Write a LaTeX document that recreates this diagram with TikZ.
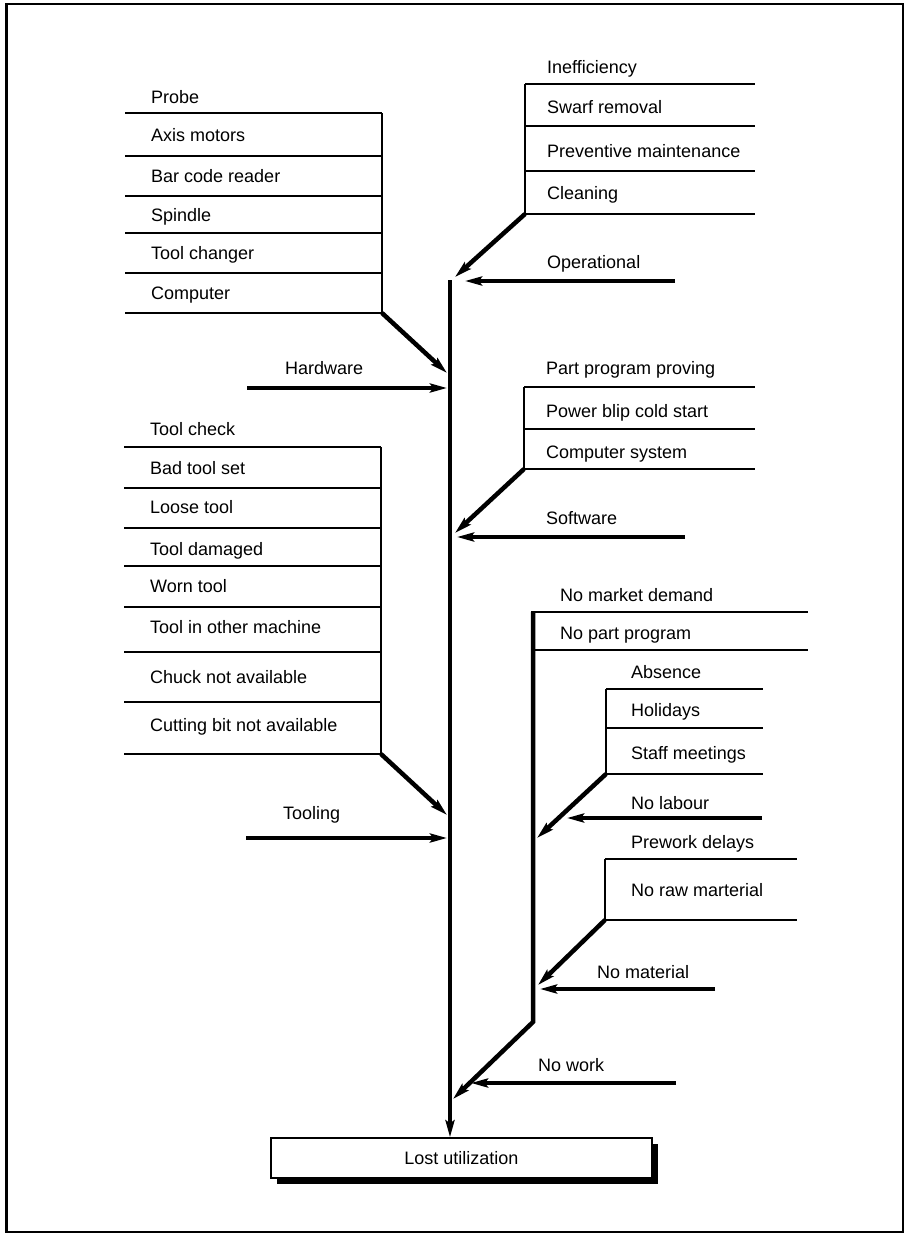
\documentclass[tikz,border=0pt]{standalone}
\usepackage{fontspec}
\setmainfont{Liberation Sans}
\usetikzlibrary{arrows.meta}
\begin{document}
\begin{tikzpicture}[x=1pt,y=-1pt,
  thin rule/.style={line width=1.5pt},
  rib/.style={line width=4.5pt, -{Stealth[length=17pt,width=9pt,inset=3pt]}},
  feed/.style={line width=4pt, -{Stealth[length=17pt,width=9pt,inset=3pt]}},
  lbl/.style={anchor=base west, inner sep=0pt, font=\fontsize{18}{18}\selectfont}]
\useasboundingbox (0,0) rectangle (905,1234);
% outer frame
\draw[line width=2pt] (6,4) rectangle (903,1232);
\draw[line width=3pt] (6,4) -- (6,1232);

% ---------- Hardware ----------
\foreach \y in {113,156,196,233,273,313} \draw[thin rule] (125,\y) -- (382,\y);
\draw[thin rule] (382,113) -- (382,313);
\node[lbl] (probe) at (151,103.5) {Probe};
\node[lbl] (axis) at (151,141) {Axis motors};
\node[lbl] (bar) at (151,182.5) {Bar code reader};
\node[lbl] (spin) at (151,221) {Spindle};
\node[lbl] (tchg) at (151,259.5) {Tool changer};
\node[lbl] (comp) at (151,299.5) {Computer};
\node[lbl] (hw) at (285,374.5) {Hardware};

% ---------- Operational ----------
\foreach \y in {84,126,171,214} \draw[thin rule] (525,\y) -- (755,\y);
\draw[thin rule] (525,84) -- (525,214);
\node[lbl] (ineff) at (547,73) {Inefficiency};
\node[lbl] (swarf) at (547,113) {Swarf removal};
\node[lbl] (prev) at (547,157.5) {Preventive maintenance};
\node[lbl] (clean) at (547,199.5) {Cleaning};
\node[lbl] (oper) at (547,268.5) {Operational};

% ---------- Software ----------
\foreach \y in {387,429,469} \draw[thin rule] (524,\y) -- (755,\y);
\draw[thin rule] (524,387) -- (524,469);
\node[lbl] (ppp) at (546,374.5) {Part program proving};
\node[lbl] (blip) at (546,417) {Power blip cold start};
\node[lbl] (csys) at (546,458.5) {Computer system};
\node[lbl] (sw) at (546,524.5) {Software};

% ---------- Tooling ----------
\foreach \y in {447,488,528,566,607,652,702,754} \draw[thin rule] (124,\y) -- (381,\y);
\draw[thin rule] (381,447) -- (381,754);
\node[lbl] (tchk) at (150,435.5) {Tool check};
\node[lbl] (bad) at (150,474.5) {Bad tool set};
\node[lbl] (loose) at (150,513.5) {Loose tool};
\node[lbl] (dmg) at (150,555.5) {Tool damaged};
\node[lbl] (worn) at (150,592.5) {Worn tool};
\node[lbl] (other) at (150,633.5) {Tool in other machine};
\node[lbl] (chuck) at (150,683.5) {Chuck not available};
\node[lbl] (bit) at (150,731.5) {Cutting bit not available};
\node[lbl] (tool) at (283,819) {Tooling};

% ---------- No work ----------
\draw[thin rule] (531,612) -- (808,612);
\draw[thin rule] (533,650) -- (808,650);
\node[lbl] (mkt) at (560,601.5) {No market demand};
\node[lbl] (npp) at (560,639.5) {No part program};
% labour
\foreach \y in {689,728,774} \draw[thin rule] (606,\y) -- (763,\y);
\draw[thin rule] (606,689) -- (606,774);
\node[lbl] (abs) at (631,678.5) {Absence};
\node[lbl] (hol) at (631,716.5) {Holidays};
\node[lbl] (staff) at (631,759.5) {Staff meetings};
\node[lbl] (lab) at (631,809.5) {No labour};
% material
\foreach \y in {859,920} \draw[thin rule] (605,\y) -- (797,\y);
\draw[thin rule] (605,859) -- (605,920);
\node[lbl] (pre) at (631,848.5) {Prework delays};
\node[lbl] (raw) at (631,896.5) {No raw marterial};
\node[lbl] (mat) at (597,978.5) {No material};
\node[lbl] (nw) at (538,1071.5) {No work};

% ---------- result box ----------
\fill (277,1144) rectangle (658,1184);
\node[draw, line width=1.5pt, fill=white, minimum width=381pt, minimum height=40pt,
      inner sep=0pt, font=\fontsize{18}{18}\selectfont] (lost) at (461.5,1158) {Lost utilization};

% ---------- bone points ----------
\coordinate (spineTop) at (450,280);
\coordinate (hwC) at (382,313);   \coordinate (hwT) at (447,373);
\coordinate (hwL) at (247,388);   \coordinate (hwR) at (447,388);
\coordinate (opC) at (525,214);   \coordinate (opT) at (455,277);
\coordinate (opL) at (675,281);   \coordinate (opR) at (465,281);
\coordinate (swC) at (524,469);   \coordinate (swT) at (455,533);
\coordinate (swL) at (685,537);   \coordinate (swR) at (457,537);
\coordinate (tlC) at (381,754);   \coordinate (tlT) at (447,815);
\coordinate (tlL) at (246,838);   \coordinate (tlR) at (447,838);
\coordinate (nwTop) at (533,612); \coordinate (nwBend) at (533,1022);
\coordinate (nwT) at (453,1099);
\coordinate (nwL) at (676,1083);  \coordinate (nwR) at (471,1083);
\coordinate (lbC) at (606,774);   \coordinate (lbT) at (537,838);
\coordinate (lbL) at (762,818);   \coordinate (lbR) at (567,818);
\coordinate (mtC) at (605,920);   \coordinate (mtT) at (538,985);
\coordinate (mtL) at (715,989);   \coordinate (mtR) at (540,989);

% main spine
\draw[feed] (spineTop) -- (spineTop |- lost.north);
% ribs into the spine
\draw[rib] (hwC) -- (hwT);
\draw[feed] (hwL) -- (hwR);
\draw[rib] (opC) -- (opT);
\draw[feed] (opL) -- (opR);
\draw[rib] (swC) -- (swT);
\draw[feed] (swL) -- (swR);
\draw[rib] (tlC) -- (tlT);
\draw[feed] (tlL) -- (tlR);
% no-work branch
\draw[rib, line cap=butt] (nwTop) -- (nwBend) -- (nwT);
\draw[feed] (nwL) -- (nwR);
\draw[rib] (lbC) -- (lbT);
\draw[feed] (lbL) -- (lbR);
\draw[rib] (mtC) -- (mtT);
\draw[feed] (mtL) -- (mtR);
\end{tikzpicture}
\end{document}
